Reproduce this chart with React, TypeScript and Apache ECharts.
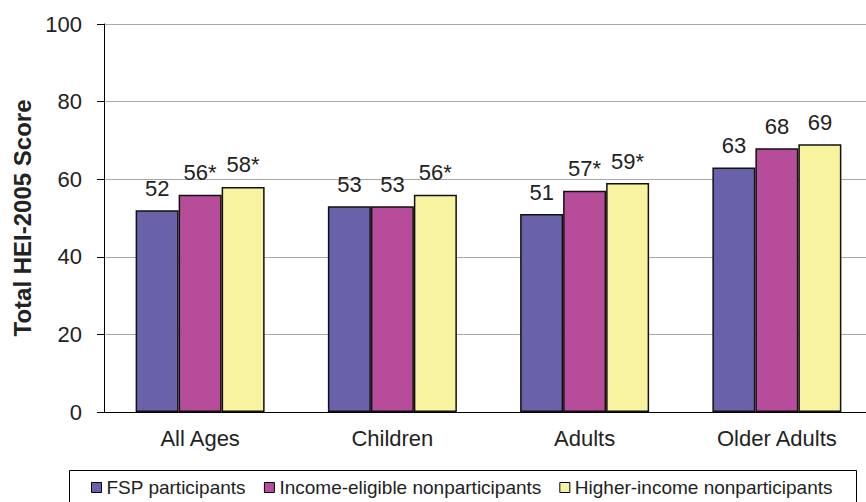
import React, { useEffect, useRef } from "react";
import * as echarts from "echarts";

const categories = ["All Ages", "Children", "Adults", "Older Adults"];
const seriesNames = [
  "FSP participants",
  "Income-eligible nonparticipants",
  "Higher-income nonparticipants",
];
const fspValues = [52, 53, 51, 63];
const eligibleValues = [56, 53, 57, 68];
const higherValues = [58, 56, 59, 69];
const fspSig = [false, false, false, false];
const eligibleSig = [true, false, true, false];
const higherSig = [true, true, true, false];
const yTicks = [0, 20, 40, 60, 80, 100];

const colors = ["#6962aa", "#b64c9a", "#f7f39e"];
const FONT = "Liberation Sans, Arial, Helvetica, sans-serif";

export default function App() {
  const ref = useRef<HTMLDivElement>(null);
  useEffect(() => {
    document.body.style.margin = "0";
    if (!ref.current) return;
    const chart = echarts.init(ref.current, null, { renderer: "svg" });
    const mk = (name: string, vals: number[], sig: boolean[], color: string) => ({
      name,
      type: "bar",
      data: vals,
      barWidth: 43,
      barGap: "0%",
      itemStyle: { color, borderColor: "#111", borderWidth: 1.5 },
      label: {
        show: true,
        position: "top",
        distance: 11,
        fontFamily: FONT,
        fontSize: 22,
        color: "#222",
        formatter: (p: any) => `${p.value}${sig[p.dataIndex] ? "*" : ""}`,
      },
    });
    chart.setOption({
      animation: false,
      textStyle: { fontFamily: FONT },
      grid: { left: 104, top: 24, width: 769, height: 388, containLabel: false },
      legend: {
        data: seriesNames,
        left: 91,
        top: 478,
        padding: 0,
        icon: "rect",
        itemWidth: 10,
        itemHeight: 10,
        itemGap: 18,
        itemStyle: { borderColor: "#000", borderWidth: 1 },
        textStyle: { fontFamily: FONT, fontSize: 19, color: "#222" },
      },
      graphic: [
        {
          type: "rect",
          shape: { x: 69.5, y: 470.5, width: 787, height: 40 },
          style: { fill: "none", stroke: "#000", lineWidth: 1 },
          silent: true,
        },
      ],
      xAxis: {
        type: "category",
        data: categories,
        axisLine: { lineStyle: { color: "#000", width: 1 } },
        axisTick: { show: false },
        axisLabel: { fontFamily: FONT, fontSize: 22, color: "#222", margin: 15 },
      },
      yAxis: {
        type: "value",
        min: yTicks[0],
        max: yTicks[yTicks.length - 1],
        interval: 20,
        name: "Total HEI-2005 Score",
        nameLocation: "middle",
        nameGap: 70,
        nameTextStyle: { fontFamily: FONT, fontSize: 24, fontWeight: "bold", color: "#222" },
        axisLine: { show: true, lineStyle: { color: "#000", width: 1 } },
        axisTick: { show: true, length: 7, lineStyle: { color: "#000" } },
        axisLabel: { fontFamily: FONT, fontSize: 22, color: "#222", margin: 22 },
        splitLine: { show: true, lineStyle: { color: "#a8a8a8", width: 1 } },
      },
      series: [
        mk(seriesNames[0], fspValues, fspSig, colors[0]),
        mk(seriesNames[1], eligibleValues, eligibleSig, colors[1]),
        mk(seriesNames[2], higherValues, higherSig, colors[2]),
      ],
    });
    return () => chart.dispose();
  }, []);
  return (
    <div style={{ width: 866, height: 502, overflow: "hidden", position: "relative" }}>
      <div ref={ref} style={{ width: 880, height: 502 }} />
    </div>
  );
}
